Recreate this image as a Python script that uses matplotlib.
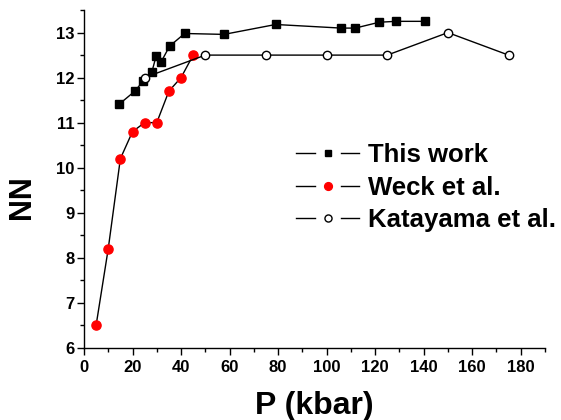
import numpy as np
import matplotlib.pyplot as plt
from matplotlib.ticker import MultipleLocator
from matplotlib.lines import Line2D
from matplotlib.legend_handler import HandlerBase

plt.rcParams['font.family'] = ['Liberation Sans', 'DejaVu Sans']
plt.rcParams['font.weight'] = 'bold'

# this work
p_this = [14.5, 21, 24.3, 28, 29.8, 31.7, 35.3, 41.5, 57.7, 79, 106, 111.8, 121.7, 128.5, 140.5]
nn_this = [11.41, 11.70, 11.92, 12.13, 12.49, 12.34, 12.70, 12.98, 12.96, 13.18, 13.10, 13.10, 13.23, 13.25, 13.25]

# Weck et al.
p_weck = [5, 10, 15, 20, 25, 30, 35, 40, 45]
nn_weck = [6.5, 8.2, 10.2, 10.8, 11.0, 11.0, 11.7, 12.0, 12.5]

# Katayama et al.
p_kat = [25, 50, 75, 100, 125, 150, 175]
nn_kat = [12.0, 12.5, 12.5, 12.5, 12.5, 13.0, 12.5]


class GapLineHandler(HandlerBase):
    # line - marker - line, with a gap around the marker (Origin style)
    def create_artists(self, legend, orig_handle, xdescent, ydescent,
                       width, height, fontsize, trans):
        y = height / 2 - ydescent
        x0 = -xdescent
        gap = width * 0.2
        left = Line2D([x0, x0 + width / 2 - gap], [y, y], color='black', lw=1)
        right = Line2D([x0 + width / 2 + gap, x0 + width], [y, y], color='black', lw=1)
        mk = Line2D([x0 + width / 2], [y], ls='none',
                    marker=orig_handle.get_marker(),
                    markersize=orig_handle.get_markersize() * 0.85,
                    markerfacecolor=orig_handle.get_markerfacecolor(),
                    markeredgecolor=orig_handle.get_markeredgecolor(),
                    markeredgewidth=orig_handle.get_markeredgewidth())
        for a in (left, right, mk):
            a.set_transform(trans)
        return [left, right, mk]


fig = plt.figure(figsize=(5.61, 4.2), dpi=100)
ax = fig.add_axes([0.1497, 0.172, 0.8217, 0.804])

h1, = ax.plot(p_this, nn_this, '-s', color='black', lw=1, ms=5.8, mfc='black', mec='black',
              label='This work', zorder=3)
h2, = ax.plot(p_weck, nn_weck, '-o', color='black', lw=1, ms=6.6, mfc='red', mec='red',
              label='Weck et al.', zorder=4)
h3, = ax.plot(p_kat, nn_kat, '-o', color='black', lw=1, ms=6.0, mfc='white', mec='black',
              mew=1, label='Katayama et al.', zorder=5)

ax.set_xlim(0, 190)
ax.set_ylim(6, 13.5)
ax.xaxis.set_major_locator(MultipleLocator(20))
ax.xaxis.set_minor_locator(MultipleLocator(10))
ax.yaxis.set_major_locator(MultipleLocator(1))
ax.yaxis.set_minor_locator(MultipleLocator(0.5))
ax.tick_params(which='major', direction='out', length=5, width=1, labelsize=12)
ax.tick_params(axis='x', which='major', pad=4)
ax.tick_params(axis='y', which='major', pad=2)
ax.tick_params(which='minor', direction='out', length=3, width=1)
for lab in ax.get_xticklabels() + ax.get_yticklabels():
    lab.set_fontweight('bold')

ax.spines['top'].set_visible(False)
ax.spines['right'].set_visible(False)
ax.spines['left'].set_linewidth(1)
ax.spines['bottom'].set_linewidth(1)

ax.set_xlabel('P (kbar)', fontsize=23, fontweight='bold', labelpad=11)
ax.set_ylabel('NN', fontsize=22, fontweight='bold')
ax.yaxis.set_label_coords(-0.102, 0.445)

leg = ax.legend(handles=[h1, h2, h3], loc='upper left', bbox_to_anchor=(0.461, 0.607),
                frameon=False, fontsize=18.5, handlelength=2.45, handletextpad=0.32,
                labelspacing=0.34, borderpad=0, borderaxespad=0,
                handler_map={Line2D: GapLineHandler()})
for t in leg.get_texts():
    t.set_fontweight('bold')

fig.savefig('out.png', dpi=100)
